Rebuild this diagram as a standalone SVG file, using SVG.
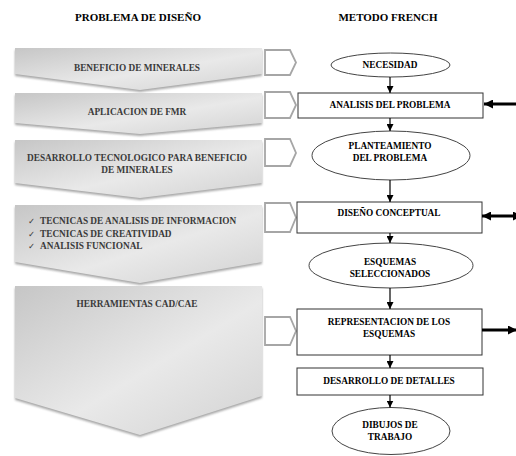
<svg xmlns="http://www.w3.org/2000/svg" width="516" height="456" viewBox="0 0 516 456">
<style>
.t{font-family:"Liberation Serif","Times New Roman",serif;font-weight:bold;font-size:9.3px;text-anchor:middle;fill:#000}
.lt{font-family:"Liberation Serif","Times New Roman",serif;font-weight:bold;font-size:9.3px;text-anchor:middle;fill:#3a3a3a}
.ck{font-family:"Liberation Serif","Times New Roman",serif;font-weight:bold;font-size:9.3px;fill:#3a3a3a}
.cm{font-family:"DejaVu Sans",sans-serif;font-size:8.5px;fill:#3a3a3a}
.title{font-family:"Liberation Serif","Times New Roman",serif;font-weight:bold;font-size:11px;text-anchor:middle;fill:#000}
.chev{fill:url(#g)}
.shad{fill:#8a8a8a;filter:url(#blur);opacity:0.75}
.pent{fill:#fff;stroke:#a6a6a6;stroke-width:1.8}
.box{fill:#fff;stroke:#333;stroke-width:1}
.ell{fill:#fff;stroke:#444;stroke-width:1}
.ln{stroke:#000;stroke-width:1.2;fill:none}
.hv{stroke:#000;stroke-width:3;fill:none}
</style>
<defs>
<linearGradient id="g" x1="0" y1="0" x2="1" y2="1">
<stop offset="0" stop-color="#c6c6c6"/>
<stop offset="0.55" stop-color="#e9e9e9"/>
<stop offset="1" stop-color="#d2d2d2"/>
</linearGradient>
<filter id="blur" x="-5%" y="-5%" width="110%" height="120%"><feGaussianBlur stdDeviation="0.8"/></filter>
<marker id="ah" viewBox="0 0 8 8" refX="8" refY="4" markerWidth="7" markerHeight="7" markerUnits="userSpaceOnUse" orient="auto"><path d="M0,0 L8,4 L0,8 z" fill="#000"/></marker>
<marker id="hh" viewBox="0 0 8 8" refX="8" refY="4" markerWidth="9" markerHeight="9" markerUnits="userSpaceOnUse" orient="auto-start-reverse"><path d="M0,0 L8,4 L0,8 z" fill="#000"/></marker>
</defs>
<rect width="516" height="456" fill="#fff"/>

<text class="title" x="138" y="20.5">PROBLEMA DE DISEÑO</text>
<text class="title" x="388" y="20.5">METODO FRENCH</text>

<g id="p1">
<path class="shad" d="M15,50 H262 V76 L140,92 L15,76 Z"/>
<path class="chev" d="M15,48 H262 V74 L140,90 L15,74 Z"/>
<text class="lt" x="137" y="71">BENEFICIO DE MINERALES</text>
</g>
<g id="p2">
<path class="shad" d="M15,95 H262 V125 L140,136 L15,125 Z"/>
<path class="chev" d="M15,93 H262 V123 L140,134 L15,123 Z"/>
<text class="lt" x="137" y="115">APLICACION DE FMR</text>
</g>
<g id="p3">
<path class="shad" d="M15,142 H262 V185 L140,200 L15,185 Z"/>
<path class="chev" d="M15,140 H262 V183 L140,198 L15,183 Z"/>
<text class="lt" x="137" y="161">DESARROLLO TECNOLOGICO PARA BENEFICIO</text>
<text class="lt" x="137" y="173">DE MINERALES</text>
</g>
<g id="p4">
<path class="shad" d="M15,207 H262 V264 L140,285 L15,264 Z"/>
<path class="chev" d="M15,205 H262 V262 L140,283 L15,262 Z"/>
<text class="cm" x="28" y="224">✓</text>
<text class="cm" x="28" y="236.5">✓</text>
<text class="cm" x="28" y="249">✓</text>
<text class="ck" x="40" y="224">TECNICAS DE ANALISIS DE INFORMACION</text>
<text class="ck" x="40" y="236.5">TECNICAS DE CREATIVIDAD</text>
<text class="ck" x="40" y="249">ANALISIS FUNCIONAL</text>
</g>
<g id="p5">
<path class="shad" d="M15,288 H262 V398 L140,437 L15,400 Z"/>
<path class="chev" d="M15,286 H262 V396 L140,435 L15,398 Z"/>
<text class="lt" x="137" y="307">HERRAMIENTAS CAD/CAE</text>
</g>

<g id="q1"><path class="pent" d="M265,50 H290 L296,62.5 L290,75 H265 Z"/></g>
<g id="q2"><path class="pent" d="M265,92 H290 L296,105 L290,118 H265 Z"/></g>
<g id="q3"><path class="pent" d="M265,139 H290 L296,153 L290,166 H265 Z"/></g>
<g id="q4"><path class="pent" d="M265,203 H290 L296,217.5 L290,232 H265 Z"/></g>
<g id="q5"><path class="pent" d="M265,317 H290 L296,331 L290,345 H265 Z"/></g>

<g id="n1"><ellipse class="ell" cx="390.5" cy="65" rx="59.5" ry="12"/><text class="t" x="390" y="68">NECESIDAD</text></g>
<g id="n2"><rect class="box" x="298" y="93" width="185" height="25"/><text class="t" x="390" y="108.3">ANALISIS DEL PROBLEMA</text></g>
<g id="n3"><ellipse class="ell" cx="391" cy="155.5" rx="79" ry="24.5"/><text class="t" x="390" y="149.3">PLANTEAMIENTO</text><text class="t" x="390" y="161.3">DEL PROBLEMA</text></g>
<g id="n4"><rect class="box" x="297" y="202" width="185" height="31"/><text class="t" x="389" y="216.3">DISEÑO CONCEPTUAL</text></g>
<g id="n5"><ellipse class="ell" cx="391" cy="265.5" rx="82" ry="22.5"/><text class="t" x="390" y="264.8">ESQUEMAS</text><text class="t" x="390" y="277">SELECCIONADOS</text></g>
<g id="n6"><rect class="box" x="297" y="309" width="185" height="46"/><text class="t" x="389" y="325.2">REPRESENTACION DE LOS</text><text class="t" x="389" y="337.2">ESQUEMAS</text></g>
<g id="n7"><rect class="box" x="297" y="368" width="186" height="27"/><text class="t" x="389" y="384.2">DESARROLLO DE DETALLES</text></g>
<g id="n8"><ellipse class="ell" cx="391" cy="431" rx="59" ry="23.5"/><text class="t" x="390" y="428.2">DIBUJOS DE</text><text class="t" x="390" y="440.2">TRABAJO</text></g>

<g id="connectors">
<line class="ln" x1="390" y1="77" x2="390" y2="93" marker-end="url(#ah)"/>
<line class="ln" x1="390" y1="118" x2="390" y2="131" marker-end="url(#ah)"/>
<line class="ln" x1="390" y1="180" x2="390" y2="202" marker-end="url(#ah)"/>
<line class="ln" x1="390" y1="233" x2="390" y2="243" marker-end="url(#ah)"/>
<line class="ln" x1="390" y1="288" x2="390" y2="309" marker-end="url(#ah)"/>
<line class="ln" x1="390" y1="355" x2="390" y2="368" marker-end="url(#ah)"/>
<line class="ln" x1="390" y1="395" x2="390" y2="407.5" marker-end="url(#ah)"/>
<line class="hv" x1="520" y1="104" x2="484" y2="104" marker-end="url(#hh)"/>
<line class="hv" x1="482" y1="216" x2="522" y2="216" marker-start="url(#hh)" marker-end="url(#hh)"/>
<line class="hv" x1="482" y1="330" x2="517" y2="330" marker-end="url(#hh)"/>
</g>
</svg>
